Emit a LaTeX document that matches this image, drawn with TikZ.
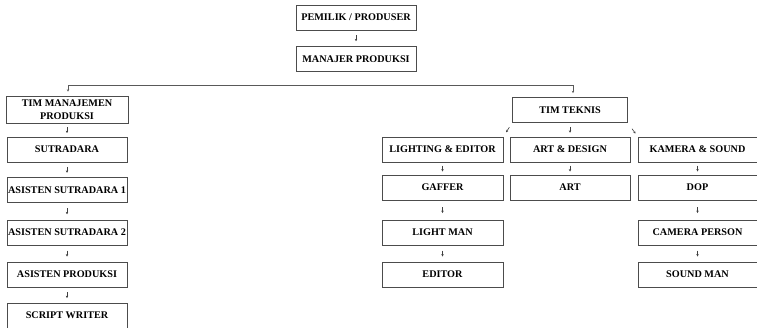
\documentclass[tikz,border=0pt]{standalone}
\usepackage{fontspec}
\setmainfont{Liberation Serif}
\usetikzlibrary{arrows.meta,calc}
\tikzset{
    box/.style={draw=black!70, line width=.7pt, minimum width=120pt, minimum height=25pt,
        inner sep=1pt, align=center, font=\fontsize{10.2}{11}\selectfont\bfseries},
    tick/.style={draw=black!75, line width=.6pt, -{Stealth[length=2.4pt,width=2.4pt]}},
    bus/.style={draw=black!65, line width=.7pt}
}
\begin{document}
\begin{tikzpicture}[x=1pt, y=-1pt]
\useasboundingbox (0,0) rectangle (757,327);
% top
\node (pp) at (356,17.5)[box]{PEMILIK / PRODUSER};
\node (mp) at (356,59)[box]{MANAJER PRODUKSI};
% two teams
\node (tm) at (67,109.5)[box, minimum width=122pt, minimum height=27pt,
    font=\fontsize{10.2}{12.5}\selectfont\bfseries]{TIM MANAJEMEN\\PRODUKSI};
\node (tt) at (570,110)[box, minimum width=115pt]{TIM TEKNIS};
\coordinate (busL) at (68,85);
\coordinate (busR) at (573,85);
\draw[bus] (busL)--(busR);
\draw[bus, -{Stealth[length=2.4pt,width=2.4pt]}, shorten >=4pt] (busL)--(busL|-tm.north);
\draw[bus, -{Stealth[length=2.4pt,width=2.4pt]}, shorten >=4pt] (busR)--(busR|-tt.north);

% left column
\node (su) at (67,149.5)[box]{SUTRADARA};
\node (as1) at (67,190)[box]{ASISTEN SUTRADARA 1};
\node (as2) at (67,232.5)[box]{ASISTEN SUTRADARA 2};
\node (ap) at (67,274.5)[box]{ASISTEN PRODUKSI};
\node (sw) at (67,315.5)[box]{SCRIPT WRITER};

% right columns
\node (le) at (442.5,149.5)[box, minimum width=121pt]{LIGHTING \& EDITOR};
\node (ad) at (570,149.5)[box]{ART \& DESIGN};
\node (ks) at (697.5,149.5)[box, minimum width=119pt]{KAMERA \& SOUND};
\node (ga) at (442.5,187.5)[box, minimum width=121pt]{GAFFER};
\node (ar) at (570,187.5)[box]{ART};
\node (dp) at (697.5,187.5)[box, minimum width=119pt]{DOP};
\node (lm) at (442.5,232.5)[box, minimum width=121pt]{LIGHT MAN};
\node (cp) at (697.5,232.5)[box, minimum width=119pt]{CAMERA PERSON};
\node (ed) at (442.5,274.5)[box, minimum width=121pt]{EDITOR};
\node (sm) at (697.5,274.5)[box, minimum width=119pt]{SOUND MAN};

% short arrows in the gaps
\foreach \a/\b in {pp/mp, tm/su, su/as1, as1/as2, as2/ap, ap/sw,
    tt/ad, le/ga, ga/lm, lm/ed, ad/ar, ks/dp, dp/cp, cp/sm}
{
    \draw[tick] ($(\a.south)!.5!(\b.north)!3pt!(\a.south)$)--($(\a.south)!.5!(\b.north)!3pt!(\b.north)$);
}
\draw[tick] ($(tt.south west)!.5!(le.north east)!3pt!(tt.south west)$)--($(tt.south west)!.5!(le.north east)!3pt!(le.north east)$);
\draw[tick] ($(tt.south east)!.6!(ks.north west)!3pt!(tt.south east)$)--($(tt.south east)!.6!(ks.north west)!3pt!(ks.north west)$);

\end{tikzpicture}
\end{document}
